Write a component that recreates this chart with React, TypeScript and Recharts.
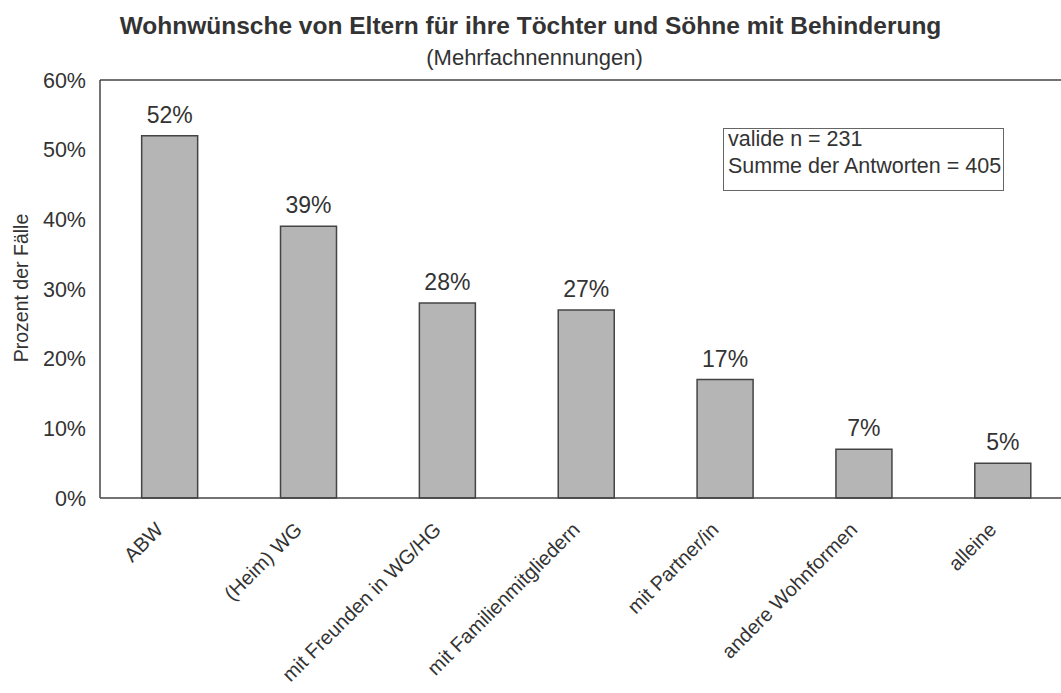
import React from 'react';
import { BarChart, Bar, XAxis, YAxis, LabelList, ReferenceLine } from 'recharts';

const categories = [
  'ABW',
  '(Heim) WG',
  'mit Freunden in WG/HG',
  'mit Familienmitgliedern',
  'mit Partner/in',
  'andere Wohnformen',
  'alleine',
];
const percents = [52, 39, 28, 27, 17, 7, 5];
const yTicks = [0, 10, 20, 30, 40, 50, 60];

const data = categories.map((name, i) => ({ name, value: percents[i] }));

const FONT = '"Liberation Sans", Arial, Helvetica, sans-serif';
const INK = '#333';

// rotated category labels, anchored at their end under each bar
const AngledTick = (props: any) => {
  const { x, y, payload } = props;
  return (
    <g transform={`translate(${x - 5},${y + 25}) rotate(-45)`}>
      <text textAnchor="end" fontSize={20} fill={INK} fontFamily={FONT}>
        {payload.value}
      </text>
    </g>
  );
};

const YLabel = () => (
  <text
    x={28}
    y={288}
    transform="rotate(-90 28 288)"
    textAnchor="middle"
    fontSize={19.5}
    fill={INK}
    fontFamily={FONT}
  >
    Prozent der Fälle
  </text>
);

export default function App() {
  return (
    <div
      style={{
        position: 'fixed', left: 0, top: 0, width: 1061, height: 693,
        overflow: 'hidden', background: '#fff', fontFamily: FONT, color: INK,
      }}
    >
      <div style={{ position: 'absolute', left: 0, width: 1061, top: 14, lineHeight: 1, textAlign: 'center', fontSize: 24.5, fontWeight: 'bold', whiteSpace: 'nowrap' }}>
        Wohnwünsche von Eltern für ihre Töchter und Söhne mit Behinderung
      </div>
      <div style={{ position: 'absolute', left: 4, width: 1061, top: 47, lineHeight: 1, textAlign: 'center', fontSize: 22 }}>
        (Mehrfachnennungen)
      </div>

      <div style={{ position: 'absolute', left: 0, top: 0 }}>
        <BarChart
          width={1072}
          height={693}
          data={data}
          margin={{ top: 80, right: 0, bottom: 0, left: 0 }}
          barCategoryGap="30%"
        >
          <YAxis
            width={100}
            domain={[0, 60]}
            ticks={yTicks}
            tickFormatter={(v: number) => `${v}%`}
            tick={{ fontSize: 21.5, fill: INK, fontFamily: FONT }}
            tickLine={false}
            tickSize={0}
            tickMargin={14}
            axisLine={{ stroke: '#444', strokeWidth: 1.5 }}
            label={<YLabel />}
          />
          <XAxis
            dataKey="name"
            height={195}
            interval={0}
            tickLine={false}
            axisLine={{ stroke: '#444', strokeWidth: 1.5 }}
            tick={<AngledTick />}
          />
          <ReferenceLine y={60} stroke="#444" strokeWidth={1.5} />
          <Bar dataKey="value" fill="#b5b5b5" stroke="#444" strokeWidth={1.5} isAnimationActive={false}>
            <LabelList
              dataKey="value"
              position="top"
              offset={13}
              formatter={(v: any) => `${v}%`}
              style={{ fontSize: 23, fill: INK, fontFamily: FONT }}
            />
          </Bar>
        </BarChart>
      </div>

      <div
        style={{
          position: 'absolute', left: 723, top: 128, width: 281, height: 63,
          border: '1.5px solid #666', boxSizing: 'border-box',
        }}
      >
        <div style={{ position: 'absolute', left: 4, top: -3, fontSize: 21.5, lineHeight: '27px', whiteSpace: 'nowrap' }}>
          <div>valide n = 231</div>
          <div>Summe der Antworten = 405</div>
        </div>
      </div>
    </div>
  );
}
